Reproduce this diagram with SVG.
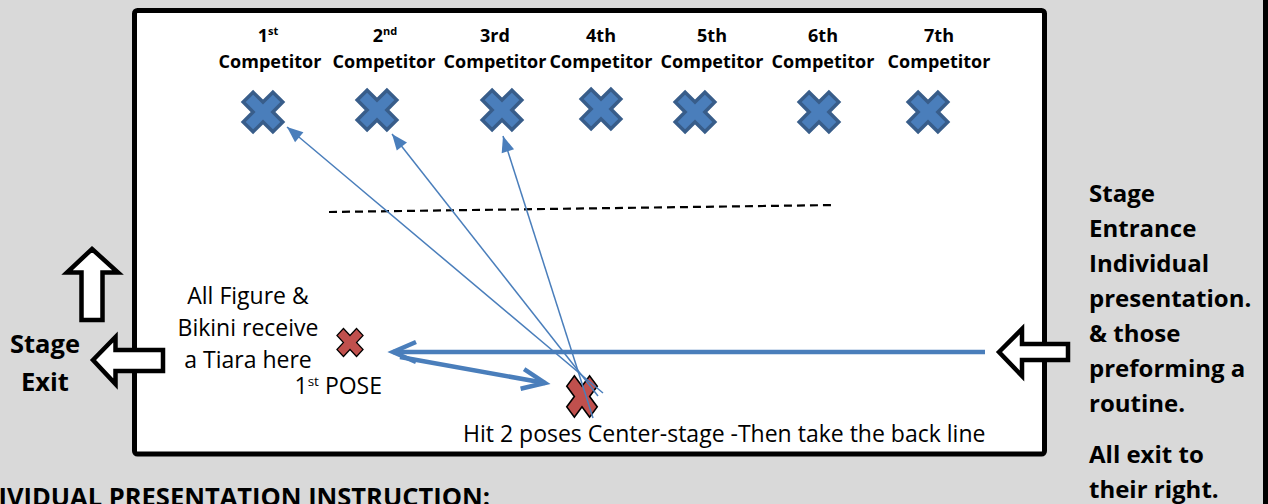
<svg xmlns="http://www.w3.org/2000/svg" width="1268" height="504" viewBox="0 0 1268 504">
<style>
.b{font-family:"Open Sans","Liberation Sans",sans-serif;font-weight:bold;fill:#000}
.r{font-family:"Open Sans","Liberation Sans",sans-serif;fill:#000}
.lbl{font-size:18px;text-anchor:middle}
.side{font-size:24px}
.left{font-size:25.5px;text-anchor:middle}
.reg{font-size:23px}
.bx{fill:#4a7ebb;stroke:#385d8a;stroke-width:3.5;stroke-linejoin:miter}
.rx{fill:#c0504d;stroke:#000;stroke-width:1.8;vector-effect:non-scaling-stroke}
.blk{fill:#fff;stroke:#000;stroke-width:4.5;stroke-linejoin:miter}
.thin{fill:none;stroke:#4a7ebb;stroke-width:1.5}
.thick{fill:none;stroke:#4a7ebb;stroke-width:4.5}
</style>
<defs>
<path id="xs" d="M-7,-21 H7 V-7 H21 V7 H7 V21 H-7 V7 H-21 V-7 H-7 Z" transform="rotate(45)"/>
<path id="xr" d="M-7,-21 H7 V-7 H21 V7 H7 V21 H-7 V7 H-21 V-7 H-7 Z" transform="rotate(45)"/>
<marker id="tri" markerUnits="userSpaceOnUse" markerWidth="18" markerHeight="14" refX="16" refY="6.5" orient="auto" overflow="visible">
<path d="M0,0 L16,6.5 L0,13 Z" fill="#4a7ebb"/>
</marker>
<marker id="open" markerUnits="userSpaceOnUse" markerWidth="30" markerHeight="30" refX="25" refY="12" orient="auto" overflow="visible">
<path d="M2,2 L25,12 L2,22" fill="none" stroke="#4a7ebb" stroke-width="4.5" stroke-linejoin="miter"/>
</marker>
</defs>
<rect x="0" y="0" width="1268" height="504" fill="#d9d9d9"/>
<rect x="1263" y="0" width="5" height="504" fill="#000"/>

<g id="stage">
<rect x="134.5" y="10.5" width="910" height="443.5" rx="3" fill="#fff" stroke="#000" stroke-width="5"/>
</g>

<g id="competitors">
<g id="c1"><text class="b lbl" x="268" y="42">1<tspan dy="-7" font-size="11">st</tspan></text><text class="b lbl" x="270" y="68">Competitor</text><use href="#xs" class="bx" x="263" y="112"/></g>
<g id="c2"><text class="b lbl" x="385" y="42">2<tspan dy="-7" font-size="11">nd</tspan></text><text class="b lbl" x="384" y="68">Competitor</text><use href="#xs" class="bx" x="377" y="110"/></g>
<g id="c3"><text class="b lbl" x="495" y="42">3rd</text><text class="b lbl" x="495" y="68">Competitor</text><use href="#xs" class="bx" x="502" y="110"/></g>
<g id="c4"><text class="b lbl" x="601" y="42">4th</text><text class="b lbl" x="601" y="68">Competitor</text><use href="#xs" class="bx" x="601" y="109"/></g>
<g id="c5"><text class="b lbl" x="712" y="42">5th</text><text class="b lbl" x="712" y="68">Competitor</text><use href="#xs" class="bx" x="695" y="112"/></g>
<g id="c6"><text class="b lbl" x="823" y="42">6th</text><text class="b lbl" x="823" y="68">Competitor</text><use href="#xs" class="bx" x="819" y="112"/></g>
<g id="c7"><text class="b lbl" x="939" y="42">7th</text><text class="b lbl" x="939" y="68">Competitor</text><use href="#xs" class="bx" x="928" y="112"/></g>
</g>

<g id="pose1">
<use href="#xr" class="rx" transform="translate(350,342.5) scale(0.66,0.71)"/>
<text class="r reg" text-anchor="end" x="382" y="394">1<tspan dy="-8" font-size="13.5">st</tspan><tspan dy="8"> POSE</tspan></text>
</g>
<g id="tiara-label">
<text class="r reg" text-anchor="middle" x="248" y="304">All Figure &amp;</text>
<text class="r reg" text-anchor="middle" x="248" y="336">Bikini receive</text>
<text class="r reg" text-anchor="middle" x="248" y="368">a Tiara here</text>
</g>
<g id="center">
<use href="#xr" class="rx" transform="translate(582,396.5) scale(0.77,1.04)"/>
<text class="r reg" x="463" y="442">Hit 2 poses Center-stage -Then take the back line</text>
</g>

<g id="connectors">
<line x1="329" y1="212" x2="835" y2="205" stroke="#000" stroke-width="2.2" stroke-dasharray="8,5"/>
<path class="thick" d="M985,352 L393,352" marker-end="url(#open)"/>
<path class="thick" d="M400,357 L545,383" marker-end="url(#open)"/>
<path class="thin" d="M603,393 L287,127" marker-end="url(#tri)"/>
<path class="thin" d="M598,396 L392,134" marker-end="url(#tri)"/>
<path class="thin" d="M593,418 L503,136" marker-end="url(#tri)"/>
</g>

<g id="exit">
<path class="blk" d="M92,249 L118,272.5 L102.5,272.5 L102.5,320 L81.5,320 L81.5,272.5 L67,272.5 Z"/>
<path class="blk" d="M93,360 L115.5,337 L115.5,350 L163,350 L163,371 L115.5,371 L115.5,384 Z"/>
<text class="b left" x="45" y="353">Stage</text>
<text class="b left" x="45" y="391">Exit</text>
</g>

<g id="entrance">
<path class="blk" d="M999,352 L1022,329 L1022,344 L1068,344 L1068,360 L1022,360 L1022,376 Z"/>
<text class="b side" x="1089" y="202">Stage</text>
<text class="b side" x="1089" y="237">Entrance</text>
<text class="b side" x="1089" y="272">Individual</text>
<text class="b side" x="1089" y="307">presentation.</text>
<text class="b side" x="1089" y="342">&amp; those</text>
<text class="b side" x="1089" y="377">preforming a</text>
<text class="b side" x="1089" y="412">routine.</text>
<text class="b side" x="1089" y="463">All exit to</text>
<text class="b side" x="1089" y="498">their right.</text>
</g>

<text class="b" font-size="25.5" text-anchor="end" x="490" y="506">INDIVIDUAL PRESENTATION INSTRUCTION:</text>
</svg>
